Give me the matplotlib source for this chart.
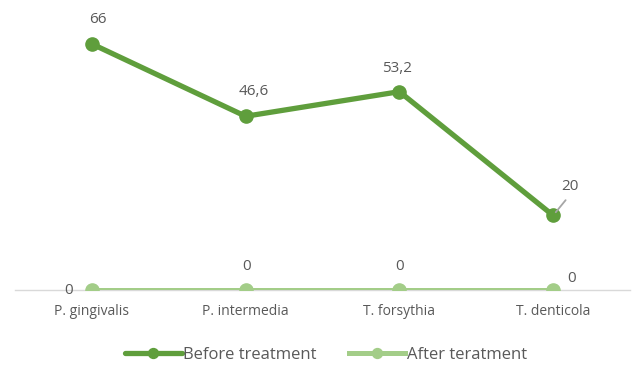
import matplotlib.pyplot as plt

categories = ["P. gingivalis", "P. intermedia", "T. forsythia", "T. denticola"]
before = [66, 46.6, 53.2, 20]
after = [0, 0, 0, 0]
before_labels = ["66", "46,6", "53,2", "20"]
after_labels = ["0", "0", "0", "0"]

dark_green = "#5F9E3C"
light_green = "#A3CD88"
text_color = "#595959"

plt.rcParams["font.family"] = ["Open Sans", "DejaVu Sans"]

fig = plt.figure(figsize=(6.36, 3.65), dpi=100)
ax = fig.add_axes([15 / 636, 75 / 365, 615 / 636, 0.715])

x = list(range(len(categories)))
ax.plot(x, before, color=dark_green, lw=3.8, marker="o", ms=9.5,
        solid_capstyle="round", label="Before treatment", zorder=3)
ax.plot(x, after, color=light_green, lw=3.6, marker="o", ms=9.5,
        label="After teratment", zorder=3)

ax.set_xlim(-0.5, 3.5)
ax.set_ylim(0, 70)
for s in ["top", "left", "right"]:
    ax.spines[s].set_visible(False)
ax.spines["bottom"].set_color("#D9D9D9")
ax.spines["bottom"].set_linewidth(1)
ax.set_yticks([])
ax.set_xticks(x)
ax.set_xticklabels(categories, fontsize=10, color=text_color)
ax.tick_params(axis="x", length=0, pad=10)

# data labels (before)
offsets_before = [(4, 17.5), (6, 17.5), (-2, 16.5), (12, 20.5)]
for i, (v, lab) in enumerate(zip(before, before_labels)):
    dx, dy = offsets_before[i]
    ax.annotate(lab, (i, v), xytext=(dx, dy), textcoords="offset points",
                ha="center", va="center", fontsize=11, color=text_color)
# leader line for last label
ax.annotate("", (3, 20), xytext=(9, 11), textcoords="offset points",
            arrowprops=dict(arrowstyle="-", color="#A6A6A6", lw=1.3,
                            shrinkA=0, shrinkB=3))

# data labels (after)
offsets_after = [(-17, 0), (1, 17), (0, 17), (13, 8)]
for i, (v, lab) in enumerate(zip(after, after_labels)):
    dx, dy = offsets_after[i]
    ax.annotate(lab, (i, v), xytext=(dx, dy), textcoords="offset points",
                ha="center", va="center", fontsize=11, color=text_color,
                annotation_clip=False)

fig.legend(loc="center", bbox_to_anchor=(0.5 + 8 / 636, 10 / 365), ncol=2,
           frameon=False, fontsize=12, handlelength=3.4, handletextpad=0.1,
           columnspacing=1.9, labelcolor=text_color, borderaxespad=0,
           markerscale=0.75)

fig.savefig("out.png", dpi=100)
